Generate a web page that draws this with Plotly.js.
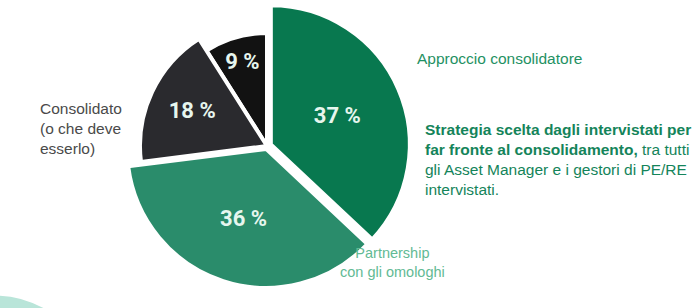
<!DOCTYPE html>
<html>
<head>
<meta charset="utf-8">
<script src="https://cdn.plot.ly/plotly-3.0.1.min.js"></script>
<style>html,body{margin:0;padding:0;background:#fff;}#chart{width:700px;height:308px;}</style>
</head>
<body>
<div id="chart"></div>
<script>
// Data
const categories = ["Approccio consolidatore", "Partnership con gli omologhi", "Consolidato (o che deve esserlo)", "Altro"];
const values = [37, 36, 18, 9];
const labelsText = ["37 %", "36 %", "18 %", "9 %"];
const sliceColors = ["#08784f", "#2a8c6b", "#2a2a2e", "#121212"];

const T = "rgba(0,0,0,0)";
const W = 700, H = 308;
const cx = 267, cy = 146;

function dom(r) {
  return {
    x: [(cx - r) / W, (cx + r) / W],
    y: [(H - cy - r) / H, (H - cy + r) / H]
  };
}

function pieTrace(show, r, pulls) {
  const maxPull = Math.max.apply(null, pulls);
  return {
    type: "pie",
    labels: categories,
    values: values,
    sort: false,
    direction: "clockwise",
    rotation: 0,
    pull: pulls,
    domain: dom(r * (1 + maxPull)),
    text: labelsText.map((t, i) => show[i] ? t : ""),
    textinfo: "text",
    textposition: "inside",
    insidetextorientation: "horizontal",
    insidetextfont: {family: "Roboto, Liberation Sans, sans-serif", size: 22, color: "#e6f6ee", weight: "bold"},
    marker: {
      colors: sliceColors.map((c, i) => show[i] ? c : T),
      line: {color: "#ffffff", width: show.map(s => s ? 4 : 0)}
    },
    hoverinfo: "skip",
    showlegend: false
  };
}

const data = [
  pieTrace([false, false, false, true], 113, [0, 0, 0, 0]),
  pieTrace([false, false, true, false], 127, [0, 0, 0, 0]),
  pieTrace([true, true, false, false], 139, [0.03, 0.022, 0, 0])
];

const green = "#1f9163";
const fs = 15.5;
const layout = {
  width: W, height: H,
  margin: {l: 0, r: 0, t: 0, b: 0},
  paper_bgcolor: "#ffffff",
  showlegend: false,
  font: {family: "Liberation Sans, Arial, sans-serif", size: fs},
  shapes: [{
    type: "path", xref: "paper", yref: "paper",
    path: "M 0 0.04 Q 0.03 0.038 0.062 0 L 0 0 Z",
    fillcolor: "#b9e5d9", line: {width: 0}
  }],
  annotations: [
    {x: 415 / W, y: 1 - 58 / H, xref: "paper", yref: "paper", xanchor: "left", yanchor: "middle",
     text: "Approccio consolidatore", showarrow: false, font: {size: fs, color: green}},
    {x: 38 / W, y: 1 - 128 / H, xref: "paper", yref: "paper", xanchor: "left", yanchor: "middle", align: "left",
     text: "Consolidato<br>(o che deve<br>esserlo)", showarrow: false, font: {size: fs, color: "#4a4a4a"}},
    {x: 423 / W, y: 1 - 160 / H, xref: "paper", yref: "paper", xanchor: "left", yanchor: "middle", align: "left",
     text: "<b>Strategia scelta dagli intervistati per</b><br><b>far fronte al consolidamento,</b> tra tutti<br>gli Asset Manager e i gestori di PE/RE<br>intervistati.",
     showarrow: false, font: {size: fs, color: "#14845a"}},
    {x: 392 / W, y: 1 - 262 / H, xref: "paper", yref: "paper", xanchor: "center", yanchor: "middle", align: "center",
     text: "Partnership<br>con gli omologhi", showarrow: false, font: {size: 14.5, color: "#62ba94"}}
  ]
};

Plotly.newPlot("chart", data, layout, {displayModeBar: false, staticPlot: true});
</script>
</body>
</html>
